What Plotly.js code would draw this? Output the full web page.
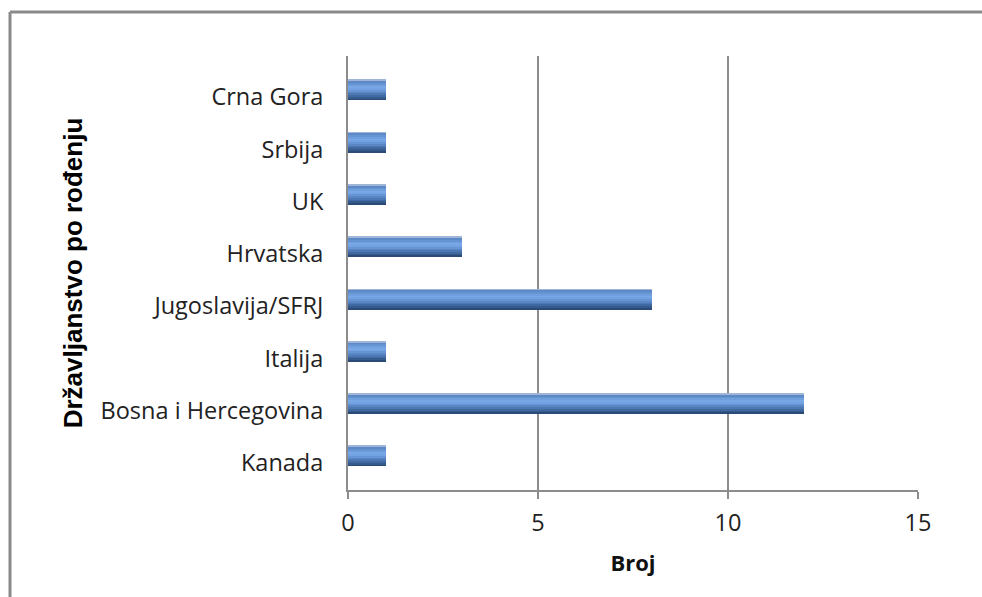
<!DOCTYPE html>
<html><head><meta charset="utf-8">
<script src="https://cdn.plot.ly/plotly-3.0.1.min.js"></script>
<style>html,body{margin:0;padding:0;background:#fff}#c{width:982px;height:597px}</style>
</head><body><div id="c"></div>
<script>
const categories = ["Kanada","Bosna i Hercegovina","Italija","Jugoslavija/SFRJ","Hrvatska","UK","Srbija","Crna Gora"];
const values = [1,12,1,8,3,1,1,1];
const xTicks = [0,5,10,15];
const xTitle = "Broj";
const yTitle = "Državljanstvo po rođenju";

// shading stripes, top to bottom, to mimic the cylinder-like gradient
const stripeColors = ["#9fb6d8","#5d89c6","#6693d2","#709fde","#78a7e6","#73a2e2","#6794d4","#5a86c4","#4d78b4","#4169a1","#355a8c","#2c4a78"];
const barWidth = 0.4;
const n = stripeColors.length;
const sw = barWidth / n;
const traces = stripeColors.map((c, i) => ({
  type: "bar", orientation: "h",
  x: values, y: categories,
  width: sw * 1.05,
  offset: barWidth / 2 - (i + 1) * sw,
  marker: {color: c, line: {width: 0}},
  hoverinfo: "skip", showlegend: false
}));

const W = 570, H = 434;
const layout = {
  width: 982, height: 597,
  margin: {l: 348, r: 64, t: 56, b: 107},
  paper_bgcolor: "#fff", plot_bgcolor: "#fff",
  barmode: "overlay", bargap: 0,
  showlegend: false,
  font: {family: "Open Sans, sans-serif", color: "#222"},
  xaxis: {
    range: [0, 15], tickvals: xTicks, ticktext: xTicks.map(String),
    showgrid: true, gridcolor: "#8c8c8c", gridwidth: 2,
    zeroline: false, showline: true, linecolor: "#8c8c8c", linewidth: 2,
    ticks: "outside", ticklen: 7, tickwidth: 2, tickcolor: "#8c8c8c",
    tickfont: {size: 23.5, family: "Open Sans, sans-serif", color: "#222"},
    ticklabelstandoff: 4,
    title: {text: xTitle, font: {size: 22, family: "Open Sans, sans-serif", weight: "bold", color: "#111"}, standoff: 18},
    fixedrange: true
  },
  yaxis: {
    type: "category", categoryorder: "array", categoryarray: categories,
    range: [-0.65, 7.65],
    showgrid: false, zeroline: false,
    showline: true, linecolor: "#8c8c8c", linewidth: 2,
    ticks: "", tickfont: {size: 23.5, family: "Open Sans, sans-serif", color: "#222"},
    ticklabelstandoff: 18, ticklabelshift: 7,
    title: {text: yTitle, font: {size: 26, family: "Liberation Sans, Arial, sans-serif", weight: "bold", color: "#000"}, standoff: 10},
    fixedrange: true
  },
  shapes: [
    {type: "line", xref: "paper", yref: "paper",
     x0: (10 - 348) / W, x1: (982 - 348) / W, y0: (490 - 12) / H, y1: (490 - 12) / H,
     line: {color: "#8a8a8a", width: 3}, layer: "below"},
    {type: "line", xref: "paper", yref: "paper",
     x0: (10 - 348) / W, x1: (10 - 348) / W, y0: (490 - 597) / H, y1: (490 - 12) / H,
     line: {color: "#8a8a8a", width: 3}, layer: "below"}
  ]
};
Plotly.newPlot("c", traces, layout, {displayModeBar: false, staticPlot: true});
</script></body></html>
